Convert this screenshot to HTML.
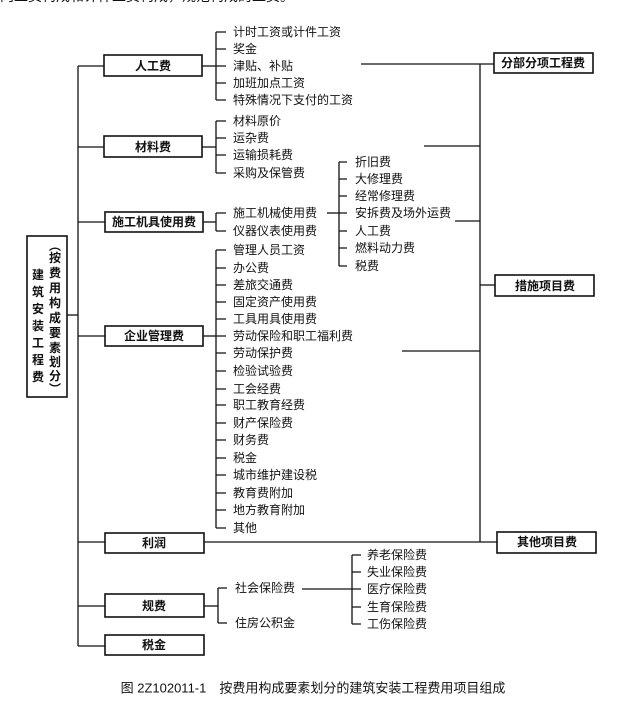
<!DOCTYPE html>
<html><head><meta charset="utf-8"><style>
html,body{margin:0;padding:0;background:#fff;}
svg{display:block;}
text{font-family:"Liberation Sans","Noto Sans CJK SC",sans-serif;font-size:12px;fill:#111;dominant-baseline:central;}
.b{font-weight:bold;}
</style></head><body>
<svg width="636" height="705" viewBox="0 0 636 705" xmlns="http://www.w3.org/2000/svg">
<g stroke="#111" stroke-width="1.3" fill="none">
<rect x="27" y="236" width="40" height="161" stroke-width="1.6"/>
<line x1="67" y1="315" x2="78" y2="315"/>
<line x1="78" y1="66" x2="78" y2="646"/>
<rect x="104" y="55" width="98" height="21" stroke-width="1.6"/>
<rect x="104" y="136" width="98" height="21" stroke-width="1.6"/>
<rect x="105" y="212" width="98" height="20" stroke-width="1.6"/>
<rect x="105" y="326" width="98" height="20" stroke-width="1.6"/>
<rect x="105" y="533" width="99" height="20" stroke-width="1.6"/>
<rect x="105" y="594" width="99" height="23" stroke-width="1.6"/>
<rect x="105" y="635" width="99" height="20" stroke-width="1.6"/>
<line x1="78" y1="66" x2="104" y2="66"/>
<line x1="78" y1="147" x2="104" y2="147"/>
<line x1="78" y1="222" x2="105" y2="222"/>
<line x1="78" y1="336" x2="105" y2="336"/>
<line x1="78" y1="542" x2="105" y2="542"/>
<line x1="78" y1="606" x2="105" y2="606"/>
<line x1="78" y1="646" x2="105" y2="646"/>
<line x1="202" y1="66" x2="216" y2="66"/>
<line x1="216" y1="32" x2="216" y2="100"/>
<path d="M216 32h10M216 49h10M216 66h10M216 83h10M216 100h10"/>
<line x1="202" y1="147" x2="216" y2="147"/>
<line x1="216" y1="121" x2="216" y2="173"/>
<path d="M216 121h10M216 138h10M216 155h10M216 173h10"/>
<line x1="203" y1="222" x2="216" y2="222"/>
<line x1="216" y1="213" x2="216" y2="231"/>
<path d="M216 213h10M216 231h10"/>
<line x1="327" y1="213" x2="339" y2="213"/>
<line x1="339" y1="162" x2="339" y2="266"/>
<path d="M339 162h8M339 179h8M339 196h8M339 213h8M339 231h8M339 248h8M339 266h8"/>
<line x1="203" y1="336" x2="216" y2="336"/>
<line x1="216" y1="250" x2="216" y2="528"/>
<path d="M216 250h10M216 268h10M216 285h10M216 302h10M216 319h10M216 336h10M216 353h10M216 371h10M216 389h10M216 405h10M216 423h10M216 440h10M216 458h10M216 475h10M216 493h10M216 510h10M216 528h10"/>
<line x1="204" y1="606" x2="218" y2="606"/>
<line x1="218" y1="588" x2="218" y2="623"/>
<path d="M218 588h9M218 623h9"/>
<line x1="302" y1="589" x2="352" y2="589"/>
<line x1="352" y1="555" x2="352" y2="624"/>
<path d="M352 555h9M352 572h9M352 589h9M352 607h9M352 624h9"/>
<line x1="480" y1="64" x2="480" y2="542"/>
<line x1="361" y1="64" x2="494" y2="64"/>
<line x1="424" y1="146" x2="480" y2="146"/>
<line x1="455" y1="221" x2="480" y2="221"/>
<line x1="480" y1="285" x2="495" y2="285"/>
<line x1="402" y1="351" x2="480" y2="351"/>
<line x1="204" y1="542" x2="497" y2="542"/>
<rect x="494" y="53" width="99" height="20" stroke-width="1.6"/>
<rect x="495" y="275" width="99" height="21" stroke-width="1.6"/>
<rect x="497" y="532" width="99" height="21" stroke-width="1.6"/>
</g>
<g class="b">
<text x="153" y="66" text-anchor="middle">人工费</text>
<text x="153" y="147" text-anchor="middle">材料费</text>
<text x="154" y="222" text-anchor="middle">施工机具使用费</text>
<text x="154" y="336" text-anchor="middle">企业管理费</text>
<text x="154" y="543" text-anchor="middle">利润</text>
<text x="154" y="606" text-anchor="middle">规费</text>
<text x="154" y="645" text-anchor="middle">税金</text>
<text x="543" y="63" text-anchor="middle">分部分项工程费</text>
<text x="545" y="286" text-anchor="middle">措施项目费</text>
<text x="547" y="542" text-anchor="middle">其他项目费</text>
</g>
<g>
<text x="233" y="32">计时工资或计件工资</text>
<text x="233" y="49">奖金</text>
<text x="233" y="66">津贴、补贴</text>
<text x="233" y="83">加班加点工资</text>
<text x="233" y="100">特殊情况下支付的工资</text>
<text x="233" y="121">材料原价</text>
<text x="233" y="138">运杂费</text>
<text x="233" y="155">运输损耗费</text>
<text x="233" y="173">采购及保管费</text>
<text x="233" y="213">施工机械使用费</text>
<text x="233" y="231">仪器仪表使用费</text>
<text x="355" y="162">折旧费</text>
<text x="355" y="179">大修理费</text>
<text x="355" y="196">经常修理费</text>
<text x="355" y="213">安拆费及场外运费</text>
<text x="355" y="231">人工费</text>
<text x="355" y="248">燃料动力费</text>
<text x="355" y="266">税费</text>
<text x="233" y="250">管理人员工资</text>
<text x="233" y="268">办公费</text>
<text x="233" y="285">差旅交通费</text>
<text x="233" y="302">固定资产使用费</text>
<text x="233" y="319">工具用具使用费</text>
<text x="233" y="336">劳动保险和职工福利费</text>
<text x="233" y="353">劳动保护费</text>
<text x="233" y="371">检验试验费</text>
<text x="233" y="389">工会经费</text>
<text x="233" y="405">职工教育经费</text>
<text x="233" y="423">财产保险费</text>
<text x="233" y="440">财务费</text>
<text x="233" y="458">税金</text>
<text x="233" y="475">城市维护建设税</text>
<text x="233" y="493">教育费附加</text>
<text x="233" y="510">地方教育附加</text>
<text x="233" y="528">其他</text>
<text x="235" y="588">社会保险费</text>
<text x="235" y="623">住房公积金</text>
<text x="367" y="555">养老保险费</text>
<text x="367" y="572">失业保险费</text>
<text x="367" y="589">医疗保险费</text>
<text x="367" y="607">生育保险费</text>
<text x="367" y="624">工伤保险费</text>
</g>
<g class="b" text-anchor="middle">
<text x="38" y="275">建</text><text x="38" y="292">筑</text><text x="38" y="309">安</text><text x="38" y="326">装</text><text x="38" y="343">工</text><text x="38" y="360">程</text><text x="38" y="377">费</text>
<text x="55" y="246">︵</text><text x="55" y="258">按</text><text x="55" y="273">费</text><text x="55" y="288">用</text><text x="55" y="303">构</text><text x="55" y="318">成</text><text x="55" y="333">要</text><text x="55" y="348">素</text><text x="55" y="362">划</text><text x="55" y="376">分</text><text x="55" y="389">︶</text>
</g>
<text x="313" y="688" text-anchor="middle" style="font-size:13px">图 2Z102011-1　按费用构成要素划分的建筑安装工程费用项目组成</text>
<text x="0" y="-4" style="font-size:14px">向工资构成和计件工资构成，规范构成的工资。</text>
</svg>
</body></html>
